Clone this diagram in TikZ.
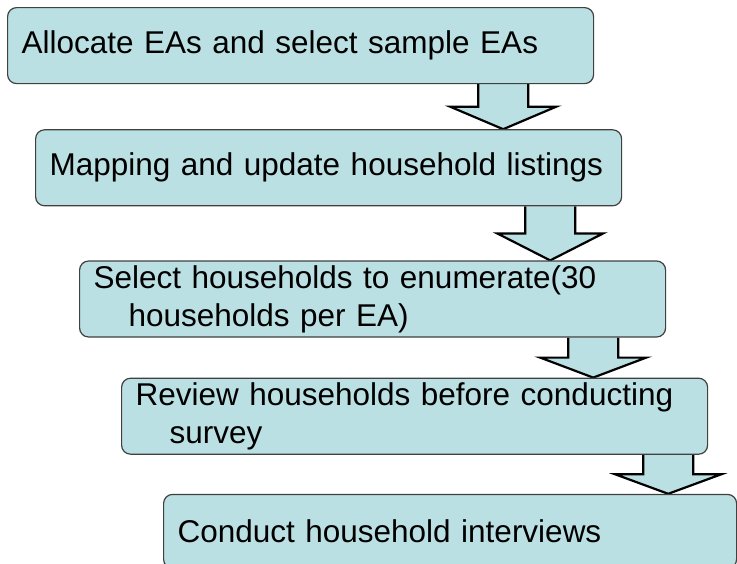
\documentclass[tikz,border=0pt]{standalone}
\usepackage{fontspec}
\setmainfont{Liberation Sans}
\usetikzlibrary{positioning,calc,backgrounds}
\definecolor{boxfill}{RGB}{187,224,227}
\tikzset{stepbox/.style={rectangle, rounded corners=9pt, draw=black!75, line width=1.2pt, fill=boxfill, minimum width=586pt, minimum height=76pt, text width=558pt, inner xsep=14pt, align=left, font=\fontsize{31.5}{38}\selectfont},
flow arrow/.style={draw=black, line width=2.2pt, fill=boxfill, line join=miter},}

% block arrow: from node, to node, distance from right edge of the upper box
\newcommand{\flowarrow}[3]{%
  \path (#1.south east) ++(-#3,0) coordinate (top)
        (top |- #2.north) coordinate (tip)
        ($(top)!0.5!(tip)$) coordinate (mid);
  \begin{scope}[on background layer]
    \draw[flow arrow] ($(top)+(-25,0)$) -- ($(mid)+(-25,0)$) -- ($(mid)+(-53,0)$) -- (tip)
      -- ($(mid)+(53,0)$) -- ($(mid)+(25,0)$) -- ($(top)+(25,0)$);
  \end{scope}}

\begin{document}
\begin{tikzpicture}[x=1pt, y=1pt]
        \useasboundingbox (0,0) rectangle (737,-563);
        % Nodes
        \node[stepbox, anchor=north west] (b1) at (7,-7) {Allocate EAs and select sample EAs};
        \node[stepbox, below right = 45pt and 28pt of b1.south west] (b2) {Mapping and update household listings};
        \node[stepbox, below right = 54pt and 44pt of b2.south west] (b3) {Select households to enumerate(30\\\hspace*{35pt}households per EA)};
        \node[stepbox, below right = 40pt and 42pt of b3.south west] (b4) {Review households before conducting\\\hspace*{34pt}survey};
        \node[stepbox, below right = 39pt and 42pt of b4.south west, minimum width=573pt, text width=545pt, minimum height=74pt] (b5) {Conduct household interviews};
        % Arrows
        \flowarrow{b1}{b2}{91}
        \flowarrow{b2}{b3}{72}
        \flowarrow{b3}{b4}{73}
        \flowarrow{b4}{b5}{40}
\end{tikzpicture}
\end{document}
